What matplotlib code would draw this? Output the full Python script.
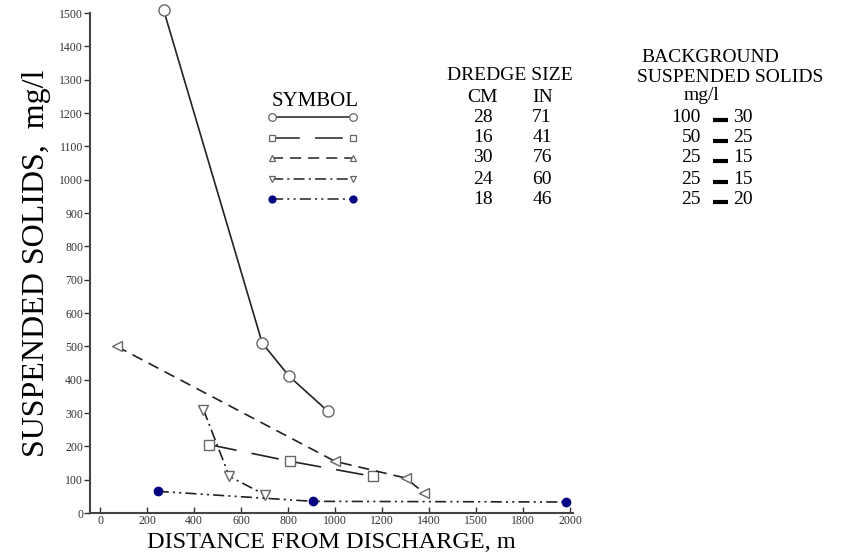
import matplotlib
matplotlib.use("Agg")
import matplotlib.pyplot as plt
from matplotlib.lines import Line2D

plt.rcParams["font.family"] = ["Liberation Serif", "DejaVu Serif"]
plt.rcParams["lines.scale_dashes"] = False

# data
circ_x = [270, 690, 805, 970]
circ_y = [1510, 510, 410, 305]
sq_x = [465, 810, 1160]
sq_y = [205, 155, 110]
tri_x = [70, 1000, 1300, 1380]
tri_y = [500, 155, 105, 60]
dtri_x = [440, 550, 700]
dtri_y = [310, 110, 55]
dot_x = [245, 905, 1985]
dot_y = [65, 35, 33]

x_ticks = [0, 200, 400, 600, 800, 1000, 1200, 1400, 1600, 1800, 2000]
x_labels = ["0", "200", "400", "600", "800", "1000", "1200", "1400", "1500", "1800", "2000"]
y_ticks = list(range(0, 1600, 100))

cm_sizes = ["28", "16", "30", "24", "18"]
in_sizes = ["71", "41", "76", "60", "46"]
bg_low = ["100", "50", "25", "25", "25"]
bg_high = ["30", "25", "15", "15", "20"]

W, H = 850, 556
LINE = "#222222"
EDGE = "#666666"
BLUE = "#000080"

styles = [
    dict(ls="-", marker="o", ms=8, mfc="white", mec=EDGE),
    dict(ls=(0, (20, 11)), marker="s", ms=7, mfc="white", mec=EDGE),
    dict(ls=(0, (8, 5)), marker="<", ms=7, mfc="white", mec=EDGE),
    dict(ls=(0, (8, 3, 1.5, 3)), marker="v", ms=7, mfc="white", mec=EDGE),
    dict(ls=(0, (8, 3, 1.5, 3, 1.5, 3)), marker="o", ms=6, mfc=BLUE, mec=BLUE),
]
series = [(circ_x, circ_y), (sq_x, sq_y), (tri_x, tri_y), (dtri_x, dtri_y), (dot_x, dot_y)]


def fx(px):
    return px / W


def fy(py):
    return 1 - py / H


fig = plt.figure(figsize=(8.5, 5.56), dpi=100)
ax = fig.add_axes([fx(90), fy(513), fx(573) - fx(90), fy(13) - fy(513)])

for (xs, ys), st in zip(series, styles):
    ax.plot(xs, ys, color=LINE, lw=1.2, clip_on=False, mew=1.0, **st)

ax.set_xlim(-43, 2013)
ax.set_ylim(0, 1500)
ax.set_xticks(x_ticks)
ax.set_xticklabels(x_labels, fontsize=8.5)
ax.set_yticks(y_ticks)
ax.set_yticklabels([str(v) for v in y_ticks], fontsize=8.5)
ax.tick_params(axis="x", direction="in", length=4, width=1, pad=1.5, colors="#333333")
ax.tick_params(axis="y", direction="out", length=4, width=1, pad=1, colors="#333333")
for s in ["top", "right"]:
    ax.spines[s].set_visible(False)
for s in ["left", "bottom"]:
    ax.spines[s].set_linewidth(1.5)
    ax.spines[s].set_color("#444444")

ax.set_xlabel("DISTANCE FROM DISCHARGE, m", fontsize=17.5, va="center")
ax.xaxis.set_label_coords(0.5, -29 / 500)
ax.set_ylabel("SUSPENDED SOLIDS,  mg/l", fontsize=23, labelpad=6)

# key / table
fs = 14
fig.text(fx(315), fy(101), "SYMBOL", fontsize=15, ha="center", va="center")
fig.text(fx(510), fy(76), "DREDGE SIZE", fontsize=fs, ha="center", va="center")
fig.text(fx(483), fy(98), "CM", fontsize=fs, ha="center", va="center")
fig.text(fx(543), fy(98), "IN", fontsize=fs, ha="center", va="center")
fig.text(fx(710), fy(58), "BACKGROUND", fontsize=fs, ha="center", va="center")
fig.text(fx(730), fy(78), "SUSPENDED SOLIDS", fontsize=fs, ha="center", va="center")
fig.text(fx(702), fy(95), "mg/l", fontsize=fs, ha="center", va="center")

rows = [117, 138, 158, 179, 199]
for i, py in enumerate(rows):
    st = styles[i]
    ms = st["ms"] - 2.5 if i < 4 else st["ms"] - 1
    mk = "^" if i == 2 else st["marker"]
    fig.add_artist(Line2D([fx(272), fx(353)], [fy(py), fy(py)], transform=fig.transFigure,
                          color=LINE, lw=1.1, ls=st["ls"], marker=mk, ms=ms,
                          mfc=st["mfc"], mec=st["mec"], mew=0.9))
    fig.text(fx(483), fy(py), cm_sizes[i], fontsize=fs, ha="center", va="center")
    fig.text(fx(542), fy(py), in_sizes[i], fontsize=fs, ha="center", va="center")
    fig.text(fx(701), fy(py), bg_low[i], fontsize=fs, ha="right", va="center")
    fig.add_artist(Line2D([fx(713), fx(728)], [fy(py + 3), fy(py + 3)], transform=fig.transFigure,
                          color="black", lw=3, solid_capstyle="butt"))
    fig.text(fx(733), fy(py), bg_high[i], fontsize=fs, ha="left", va="center")

fig.savefig("out.png", dpi=100)
